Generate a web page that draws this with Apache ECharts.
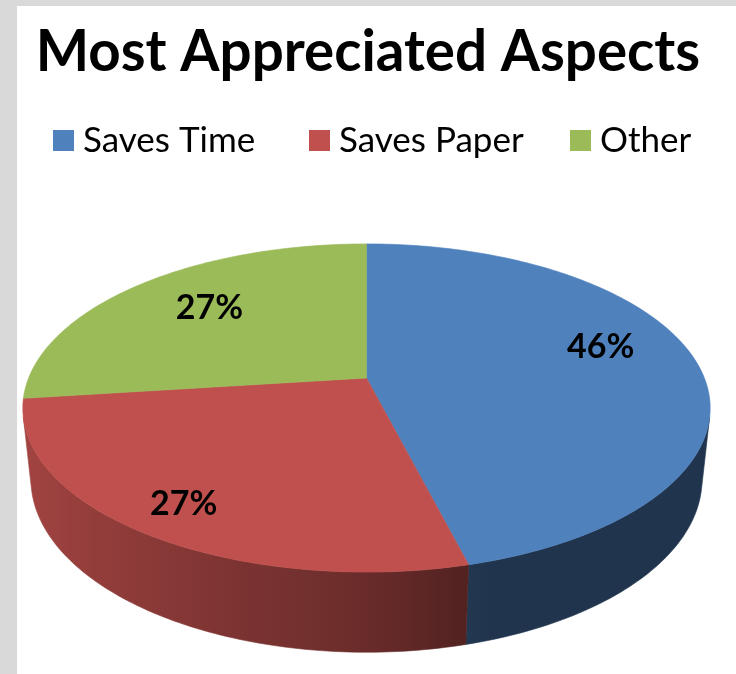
<!DOCTYPE html>
<html>
<head>
<meta charset="utf-8">
<title>Most Appreciated Aspects</title>
<script src="https://cdn.jsdelivr.net/npm/echarts@6/dist/echarts.min.js"></script>
<style>
  html, body { margin: 0; padding: 0; width: 736px; height: 674px; overflow: hidden; background: #d9d9d9; }
  #panel { position: absolute; left: 17px; top: 6px; right: 0; bottom: 0; background: #ffffff; }
  #chart { position: absolute; left: 0; top: 0; width: 736px; height: 674px; }
</style>
</head>
<body>
<div id="panel"></div>
<div id="chart"></div>
<script>
// ---- data ----
const categories = ['Saves Time', 'Saves Paper', 'Other'];
const shares = [46, 27, 27];   // percent

// ---- styling ----
const palette = ['#4f81bd', '#c0504d', '#9bbb59'];
const legendLeft = [53, 309, 570];
// label anchor: fraction of radius along the slice's middle angle, plus an upward lift in px
const labelPlacement = [
  { r: 0.71, lift: 17 },
  { r: 0.84, lift: 0 },
  { r: 0.67, lift: 5 }
];
// perspective camera looking down on a thin disc of radius 1
const camera = { cx: 366.5, cy: 378, focal: 1632, dist: 4.83, tilt: 28, thickness: 0.241 };

const total = shares.reduce((a, b) => a + b, 0);
const starts = [];
shares.reduce((acc, v) => { starts.push(acc); return acc + v; }, 0);

const sinT = Math.sin(camera.tilt * Math.PI / 180);
const cosT = Math.cos(camera.tilt * Math.PI / 180);

// phi: clockwise from the far side of the disc; level 0 = top face, 1 = bottom face
function project(phi, r, level) {
  const X = r * Math.sin(phi), Z = r * Math.cos(phi), Y = -level * camera.thickness;
  const yc = Z * sinT + Y * cosT;
  const zc = camera.dist + Z * cosT - Y * sinT;
  return [camera.cx + camera.focal * X / zc, camera.cy - camera.focal * yc / zc];
}

// the outer wall is seen only where its normal turns toward the camera
const wallFrom = Math.acos(-1 / (camera.dist * cosT));
const wallTo = 2 * Math.PI - wallFrom;

function shadeFactor(phi) {
  const X = Math.sin(phi);
  return X < 0 ? 0.55 - 0.31 * X : Math.max(0.41, 0.55 - 0.5 * X);
}
function scaleColor(hex, s) {
  const n = parseInt(hex.slice(1), 16);
  const r = Math.round(((n >> 16) & 255) * s);
  const g = Math.round(((n >> 8) & 255) * s);
  const b = Math.round((n & 255) * s);
  return 'rgb(' + r + ',' + g + ',' + b + ')';
}

function arc(a0, a1, level) {
  const pts = [];
  const steps = Math.max(2, Math.ceil((a1 - a0) / (Math.PI / 180)));
  for (let k = 0; k <= steps; k++) {
    pts.push(project(a0 + (a1 - a0) * k / steps, 1, level));
  }
  return pts;
}

function renderSlice(params, api) {
  const i = params.seriesIndex;
  const value = api.value(0);
  const a0 = starts[i] / total * 2 * Math.PI;
  const a1 = a0 + value / total * 2 * Math.PI;
  const base = palette[i];
  const children = [];

  // side wall
  const lo = Math.max(a0, wallFrom), hi = Math.min(a1, wallTo);
  if (hi > lo) {
    const top = arc(lo, hi, 0);
    const bottom = arc(lo, hi, 1).reverse();
    const xLeft = project(hi, 1, 0)[0];
    const xRight = project(lo, 1, 0)[0];
    const stops = [];
    const n = 40;
    for (let k = 0; k <= n; k++) {
      const phi = hi - (hi - lo) * k / n;
      const x = project(phi, 1, 0)[0];
      stops.push({ offset: Math.min(1, Math.max(0, (x - xLeft) / (xRight - xLeft))), color: scaleColor(base, shadeFactor(phi)) });
    }
    const grad = new echarts.graphic.LinearGradient(xLeft, 0, xRight, 0, stops, true);
    children.push({
      type: 'polygon',
      shape: { points: top.concat(bottom) },
      style: { fill: grad, stroke: grad, lineWidth: 0.6 }
    });
  }

  // top face
  const face = [project(0, 0, 0)].concat(arc(a0, a1, 0));
  children.push({
    type: 'polygon',
    shape: { points: face },
    style: { fill: base, stroke: base, lineWidth: 0.6 }
  });

  // percentage label
  const mid = (a0 + a1) / 2;
  const p = project(mid, labelPlacement[i].r, 0);
  children.push({
    type: 'text',
    x: p[0],
    y: p[1] - labelPlacement[i].lift,
    style: {
      text: Math.round(value / total * 100) + '%',
      fill: '#000000',
      fontFamily: 'Lato',
      fontWeight: 'bold',
      fontSize: 34,
      align: 'center',
      verticalAlign: 'middle'
    }
  });

  return { type: 'group', children: children };
}

const chart = echarts.init(document.getElementById('chart'), null, { renderer: 'canvas' });
chart.setOption({
  animation: false,
  title: {
    text: 'Most Appreciated Aspects',
    left: 'center',
    top: 19,
    textStyle: { fontFamily: 'Lato', fontWeight: 'bold', fontSize: 56.5, color: '#000000' }
  },
  legend: categories.map((name, i) => ({
    data: [{ name: name, icon: 'rect' }],
    left: legendLeft[i],
    top: 123,
    padding: 0,
    itemWidth: 21,
    itemHeight: 21,
    selectedMode: false,
    textStyle: { fontFamily: 'Lato', fontSize: 35, color: '#000000', padding: [0, 0, 0, 4] }
  })),
  series: categories.map((name, i) => ({
    type: 'custom',
    name: name,
    coordinateSystem: 'none',
    silent: true,
    itemStyle: { color: palette[i] },
    data: [[shares[i]]],
    renderItem: renderSlice
  }))
});
</script>
</body>
</html>
